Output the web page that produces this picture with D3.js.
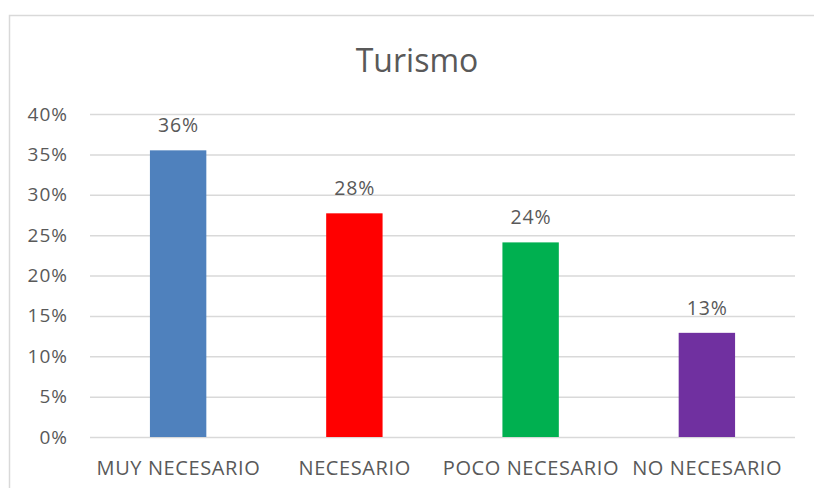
<!DOCTYPE html>
<html><head><meta charset="utf-8">
<script src="https://cdn.jsdelivr.net/npm/d3@7"></script>
<style>body{margin:0;background:#fff}svg{display:block}text{font-family:"Open Sans","Liberation Sans",sans-serif;fill:#595959}</style>
</head><body><svg id="c" width="814" height="488"></svg>
<script>
const categories = ["MUY NECESARIO","NECESARIO","POCO NECESARIO","NO NECESARIO"];
const values = [0.355, 0.277, 0.241, 0.129];
const labels = ["36%","28%","24%","13%"];
const colors = ["#4F81BD","#FF0000","#00B050","#7030A0"];
const yTicks = [0,0.05,0.10,0.15,0.20,0.25,0.30,0.35,0.40];
const title = "Turismo";

const FONT = '"Open Sans","Liberation Sans",sans-serif';
const svg = d3.select("#c");
svg.append("rect").attr("x",9.5).attr("y",15.5).attr("width",900).attr("height",600)
  .attr("fill","#fff").attr("stroke","#d9d9d9").attr("stroke-width",1.5);

const x = d3.scaleBand().domain(categories).range([90,795]).paddingInner(0.68).paddingOuter(0.34);
const y = d3.scaleLinear().domain([0,0.40]).range([437,114]);

svg.append("text").attr("x",417).attr("y",72).attr("text-anchor","middle")
  .style("font-size","32px").text(title);

const ya = svg.append("g").attr("transform","translate(90,0)")
  .call(d3.axisLeft(y).tickValues(yTicks).tickFormat(d3.format(".0%")).tickSize(-705).tickPadding(22));
ya.select(".domain").remove();
ya.selectAll("line").attr("stroke","#d9d9d9").attr("stroke-width",1.5);
ya.selectAll("text").style("font-size","19px").style("letter-spacing","1px").style("font-family",FONT).attr("fill","#595959");

svg.selectAll(".bar").data(values).join("rect")
  .attr("x",(d,i)=>x(categories[i])).attr("width",x.bandwidth())
  .attr("y",d=>y(d)).attr("height",d=>y(0)-y(d)).attr("fill",(d,i)=>colors[i]);

svg.selectAll(".lbl").data(values).join("text")
  .attr("x",(d,i)=>x(categories[i])+x.bandwidth()/2+0.4).attr("y",d=>y(d)-18)
  .attr("text-anchor","middle").style("font-size","19.5px").style("letter-spacing","0.8px").text((d,i)=>labels[i]);

const xa = svg.append("g").attr("transform","translate(0,437)")
  .call(d3.axisBottom(x).tickSize(0).tickPadding(24));
xa.select(".domain").remove();
xa.selectAll("text").style("font-size","20px").style("letter-spacing","0.6px").attr("dx","0.3px")
  .style("font-family",FONT).attr("fill","#595959");
</script></body></html>
